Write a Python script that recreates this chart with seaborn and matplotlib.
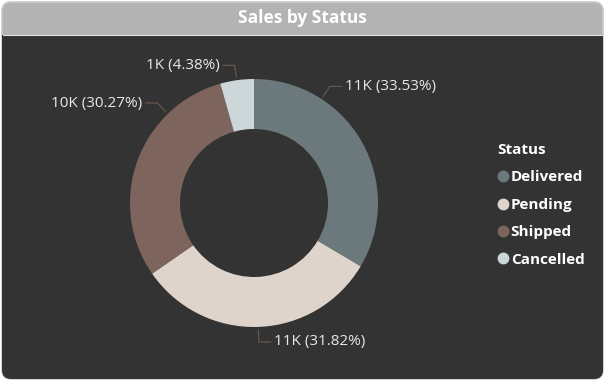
import numpy as np
import matplotlib
matplotlib.use("Agg")
import matplotlib.pyplot as plt
from matplotlib.patches import FancyBboxPatch, Rectangle
from matplotlib.lines import Line2D
import seaborn as sns

# --- data ---
status = ["Delivered", "Pending", "Shipped", "Cancelled"]
sales = [11065, 10501, 9989, 1445]
colors = ["#6b797d", "#dfd4cb", "#7d655d", "#cdd6d8"]
# angle (deg) where each label's leader line leaves the ring
label_angles = [57, 272, 134, 98]

sns.set_theme(style="white")
plt.rcParams["font.family"] = ["Open Sans", "DejaVu Sans"]
pal = sns.color_palette(colors)

W, H = 605, 381
fig = plt.figure(figsize=(W / 100, H / 100), dpi=100, facecolor="white")
ax = fig.add_axes([0, 0, 1, 1])

# card + title bar
card = FancyBboxPatch((2, 2), W - 4, H - 4, boxstyle="round,pad=0,rounding_size=9",
                      fc="#b3b3b3", ec="#c9c9c9", lw=1.2, zorder=0)
ax.add_patch(card)
body = Rectangle((0, 0), W, H - 35, fc="#333333", ec="none", zorder=0.5)
ax.add_patch(body)
body.set_clip_path(card)
ax.plot([3, W - 3], [H - 35, H - 35], color="#e0e0e0", lw=0.8, zorder=0.6)
ax.text(W / 2, H - 18, "Sales by Status", ha="center", va="center",
        color="white", fontsize=12.5, fontweight="bold")

# donut
cx, cy, r = 254, 178, 124
wedges, _ = ax.pie(sales, colors=pal, startangle=90, counterclock=False,
                   center=(cx, cy), radius=r,
                   wedgeprops=dict(width=50, edgecolor="none"))

total = sum(sales)
for v, a in zip(sales, label_angles):
    t = np.deg2rad(a)
    ux, uy = np.cos(t), np.sin(t)
    side = 1 if ux >= 0 else -1
    p0 = (cx + (r + 3) * ux, cy + (r + 3) * uy)
    p1 = (cx + (r + 15) * ux, cy + (r + 15) * uy)
    p2 = (p1[0] + 12 * side, p1[1])
    ax.plot([p0[0], p1[0], p2[0]], [p0[1], p1[1], p2[1]],
            color="#66574f", lw=0.9, zorder=3)
    lbl = f"{round(v / 1000)}K ({v / total * 100:.2f}%)"
    ax.text(p2[0] + 3 * side, p2[1], lbl, ha="left" if side > 0 else "right",
            va="center", color="#e8e8e8", fontsize=11)

# legend
handles = [Line2D([], [], marker="o", ls="", color=c, markersize=7.5) for c in pal]
leg = ax.legend(handles, status, title="Status", loc="upper left",
                bbox_to_anchor=(497 / W, (H - 143) / H), frameon=False,
                labelcolor="white", prop=dict(weight="bold", size=11),
                title_fontproperties=dict(weight="bold", size=11),
                handletextpad=0.1, handlelength=0.8, labelspacing=0.88,
                borderpad=0, borderaxespad=0)
leg.get_title().set_color("white")
leg._legend_box.align = "left"

ax.set_xlim(0, W)
ax.set_ylim(0, H)
ax.set_aspect("equal")
ax.axis("off")

fig.savefig("out.png", dpi=100, facecolor="white")
